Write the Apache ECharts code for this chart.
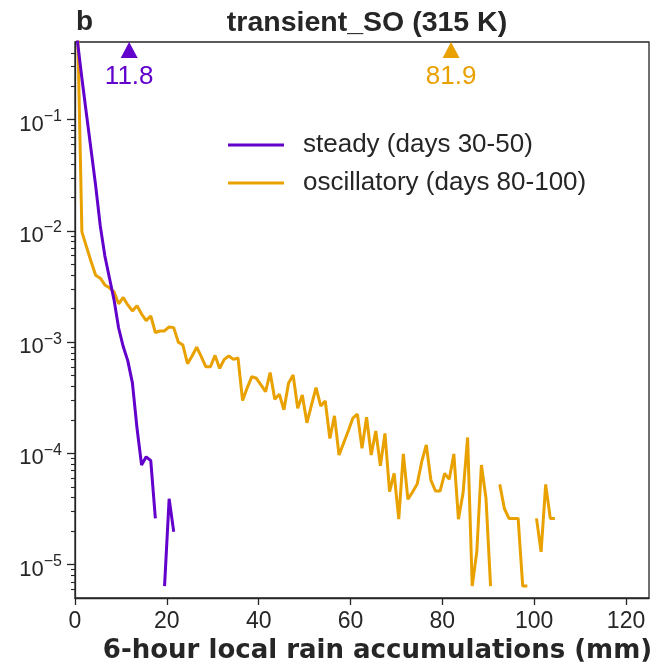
<!DOCTYPE html>
<html>
<head>
<meta charset="utf-8">
<script src="https://cdn.jsdelivr.net/npm/echarts@6/dist/echarts.min.js"></script>
<style>
html,body{margin:0;padding:0;background:#fff;}
#chart{width:654px;height:670px;}
</style>
</head>
<body>
<div id="chart"></div>
<script>
// bin centers (mm)
const binCenters = [0.5,1.5,2.5,3.5,4.5,5.5,6.5,7.5,8.5,9.5,10.5,11.5,12.5,13.5,14.5,15.5,16.5,17.5,18.5,19.5,
  20.5,21.5,22.5,23.5,24.5,25.5,26.5,27.5,28.5,29.5,30.5,31.5,32.5,33.5,34.5,35.5,36.5,37.5,38.5,39.5,
  40.5,41.5,42.5,43.5,44.5,45.5,46.5,47.5,48.5,49.5,50.5,51.5,52.5,53.5,54.5,55.5,56.5,57.5,58.5,59.5,
  60.5,61.5,62.5,63.5,64.5,65.5,66.5,67.5,68.5,69.5,70.5,71.5,72.5,73.5,74.5,75.5,76.5,77.5,78.5,79.5,
  80.5,81.5,82.5,83.5,84.5,85.5,86.5,87.5,88.5,89.5,90.5,91.5,92.5,93.5,94.5,95.5,96.5,97.5,98.5,99.5,
  100.5,101.5,102.5,103.5,104.5];

// steady (days 30-50)
const steadyValues = [0.52,0.236,0.112,0.0536,0.0255,0.0111,0.00597,0.00377,0.0024,0.00134,
  0.000912,0.000678,0.00043,0.000169,0.0000785,0.000093,0.000086,0.000026,null,0.0000064,
  0.000039,0.0000197];

// oscillatory (days 80-100)
const oscValues = [0.97,0.0098,0.0072,0.0053,0.0040,0.00376,0.00327,0.00308,0.00283,0.00221,
  0.00252,0.00216,0.00191,0.00212,0.00179,0.00156,0.00172,0.00122,0.00126,0.00126,
  0.00137,0.00135,0.00100,0.00094,0.00064,0.00075,0.00090,0.00074,0.00060,0.00060,
  0.00076,0.00058,0.00070,0.00075,0.00070,0.00072,0.000298,0.000388,0.00049,0.000473,
  0.000412,0.000359,0.000532,0.000307,0.00034,0.000246,0.000427,0.000507,0.000254,0.000335,
  0.000188,0.000272,0.000389,0.000267,0.000296,0.000136,0.000217,0.0000966,0.000124,0.000159,
  0.000207,0.000225,0.000111,0.000211,0.0000966,0.000159,0.0000774,0.000151,0.0000452,0.000066,
  0.0000256,0.0000987,0.0000386,0.0000449,0.0000526,0.0000841,0.000119,0.0000575,0.0000458,0.0000458,
  0.000066,0.0000584,0.0000987,0.0000256,0.0000437,0.000139,0.0000064,0.000013,0.0000785,0.0000394,
  0.0000064,null,0.0000526,0.0000319,0.000026,0.000026,0.000026,0.0000064,0.0000064,null,
  0.000026,0.000013,0.0000526,0.000026,0.000026];

// mean accumulations (mm)
const steadyMean = 11.8;
const oscMean = 81.9;

const xTicks = [0,20,40,60,80,100,120];
const yMajorTicks = [1e-5,1e-4,1e-3,1e-2,1e-1];
const yMinorTicks = [6e-6,7e-6,8e-6,9e-6,
  2e-5,3e-5,4e-5,5e-5,6e-5,7e-5,8e-5,9e-5,
  2e-4,3e-4,4e-4,5e-4,6e-4,7e-4,8e-4,9e-4,
  2e-3,3e-3,4e-3,5e-3,6e-3,7e-3,8e-3,9e-3,
  2e-2,3e-2,4e-2,5e-2,6e-2,7e-2,8e-2,9e-2,
  0.2,0.3,0.4];

const purple = '#6200CC';
const orange = '#E9A100';
const ink = '#262626';
const yMin = 5e-6, yMax = 0.5;

function pairs(xs, ys){ return ys.map((v,i)=>[xs[i], v]); }

const chart = echarts.init(document.getElementById('chart'), null, {renderer:'canvas'});
chart.setOption({
  animation:false,
  backgroundColor:'#fff',
  title:[
    {text:'b', left:71, top:3, textStyle:{fontFamily:'Liberation Sans', fontWeight:'bold', fontSize:28, color:ink}},
    {text:'transient_SO (315 K)', left:362, textAlign:'center', top:4,
     textStyle:{fontFamily:'Liberation Sans', fontWeight:'bold', fontSize:28.5, color:ink}}
  ],
  grid:{left:75, right:5, top:42, bottom:72, show:true, borderColor:ink, borderWidth:1.3, outerBoundsMode:'none'},
  legend:{
    orient:'vertical', left:223, top:127, icon:'rect', itemWidth:56, itemHeight:3, itemGap:12,
    data:['steady (days 30-50)','oscillatory (days 80-100)'],
    textStyle:{fontFamily:'Liberation Sans', fontSize:26, color:ink, padding:[0,0,0,14]}
  },
  xAxis:{
    type:'value', min:0, max:125,
    name:'6-hour local rain accumulations (mm)', nameLocation:'middle', nameGap:40,
    nameTextStyle:{fontFamily:'DejaVu Sans', fontWeight:'bold', fontSize:26, color:ink, padding:[0,0,0,31]},
    axisLine:{show:true, lineStyle:{color:ink, width:1.3}},
    axisTick:{show:true, length:7, customValues:xTicks, lineStyle:{color:ink, width:1.3}},
    axisLabel:{customValues:xTicks, margin:12, fontFamily:'Liberation Sans', fontSize:23, color:ink},
    splitLine:{show:false}
  },
  yAxis:[
    {
      type:'log', logBase:10, min:yMin, max:yMax,
      axisLine:{show:true, lineStyle:{color:ink, width:1.3}},
      axisTick:{show:true, length:8, customValues:yMajorTicks, lineStyle:{color:ink, width:1.3}},
      axisLabel:{
        customValues:yMajorTicks, margin:13,
        formatter:function(v){ const n = Math.round(Math.log10(v)); return '{b|10}{s|\u2212' + Math.abs(n) + '}'; },
        rich:{
          b:{fontFamily:'Liberation Sans', fontSize:22, lineHeight:22, padding:[10,0,0,0], color:ink},
          s:{fontFamily:'Liberation Sans', fontSize:16, lineHeight:14, verticalAlign:'top', color:ink}
        }
      },
      splitLine:{show:false}
    },
    {
      type:'log', logBase:10, min:yMin, max:yMax, position:'left',
      axisLine:{show:false},
      axisTick:{show:true, length:4, customValues:yMinorTicks, lineStyle:{color:ink, width:1.1}},
      axisLabel:{show:false},
      splitLine:{show:false}
    }
  ],
  series:[
    {
      name:'steady (days 30-50)', type:'line', symbol:'none', yAxisIndex:0,
      data:pairs(binCenters, steadyValues), connectNulls:false,
      lineStyle:{color:purple, width:3}, itemStyle:{color:purple}, z:3
    },
    {
      name:'oscillatory (days 80-100)', type:'line', symbol:'none', yAxisIndex:0,
      data:pairs(binCenters, oscValues), connectNulls:false,
      lineStyle:{color:orange, width:3}, itemStyle:{color:orange}, z:2
    },
    {
      name:'steady mean', type:'scatter', symbol:'triangle', symbolSize:[17,16], symbolOffset:[0,8],
      data:[[steadyMean, yMax]], clip:false, itemStyle:{color:purple, opacity:1},
      label:{show:true, position:'bottom', distance:6, formatter:p=>p.value[0].toFixed(1),
        fontFamily:'Liberation Sans', fontSize:26, color:purple}
    },
    {
      name:'oscillatory mean', type:'scatter', symbol:'triangle', symbolSize:[17,16], symbolOffset:[0,8],
      data:[[oscMean, yMax]], clip:false, itemStyle:{color:orange, opacity:1},
      label:{show:true, position:'bottom', distance:6, formatter:p=>p.value[0].toFixed(1),
        fontFamily:'Liberation Sans', fontSize:26, color:orange}
    }
  ]
});
</script>
</body>
</html>
